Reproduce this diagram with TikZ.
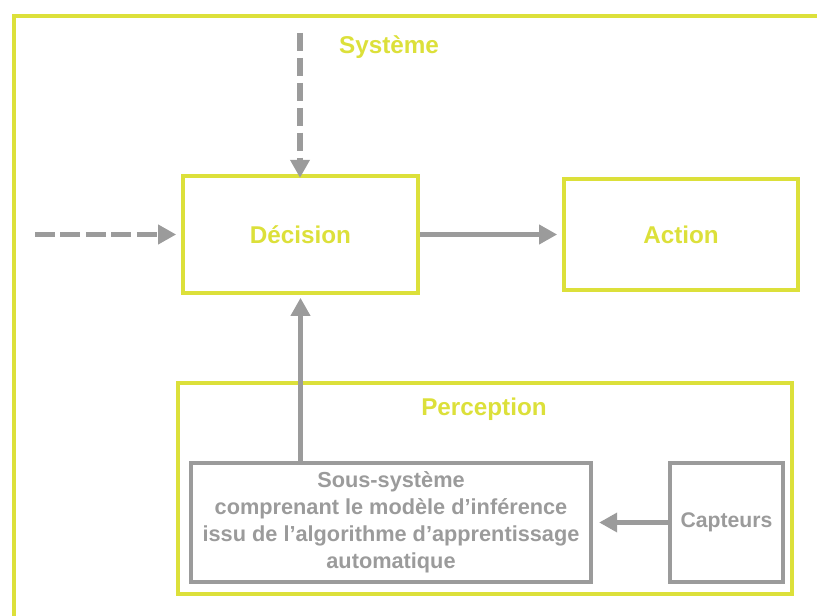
\documentclass[tikz,border=0pt]{standalone}
\usepackage{fontspec}
\setmainfont{Liberation Sans}
\usetikzlibrary{arrows.meta}
\definecolor{ylw}{HTML}{DCE03A}
\definecolor{gry}{HTML}{9B9B9B}
\begin{document}
\begin{tikzpicture}[x=0.75pt,y=-0.75pt,
  ybox/.style={draw=ylw, line width=3.2pt, rectangle, inner sep=0pt},
  gbox/.style={draw=gry, line width=3.2pt, rectangle, inner sep=0pt},
  ylabel/.style={text=ylw, font=\bfseries\fontsize{18.2pt}{21pt}\selectfont, inner sep=0pt},
  glabel/.style={text=gry, font=\bfseries\fontsize{16.3pt}{20.25pt}\selectfont, inner sep=0pt, align=center},
  arr/.style={draw=gry, line width=3.8pt, -{Triangle[length=13.5pt,width=14pt]}},
  dasharrh/.style={arr, dash pattern=on 15pt off 4.1pt},
  dasharrv/.style={arr, dash pattern=on 13.5pt off 5.2pt}
]
\useasboundingbox (0,0) rectangle (817,616);
\begin{scope}
  \clip (0,0) rectangle (817,616);
  \draw[ylw, line width=3.2pt] (14,16) rectangle (840,640);
\end{scope}

\node[ylabel] (sys) at (389,47) {Système};

\node[ybox, minimum width={235*0.75pt}, minimum height={117*0.75pt}] (dec) at (300.5,234.5) {};
\node[ylabel] (dect) at (dec.center) {Décision};

\node[ybox, minimum width={234*0.75pt}, minimum height={111*0.75pt}] (act) at (681,234.5) {};
\node[ylabel] (actt) at (act.center) {Action};

\node[ybox, minimum width={614*0.75pt}, minimum height={211*0.75pt}] (per) at (485,488.5) {};
\node[ylabel] (pert) at (484,409) {Perception};

\node[gbox, minimum width={400*0.75pt}, minimum height={119*0.75pt}] (sous) at (391,522.5) {};
\node[glabel] (soust) at (sous.center) {Sous-système\\comprenant le modèle d’inférence\\issu de l’algorithme d’apprentissage\\automatique};

\node[gbox, minimum width={113*0.75pt}, minimum height={119*0.75pt}] (cap) at (726.5,522.5) {};
\node[text=gry, font=\bfseries\fontsize{15.9pt}{19pt}\selectfont, inner sep=0pt] (capt) at (cap.center) {Capteurs};

\coordinate (topin) at (300,33);
\coordinate (leftin) at (35,234.5);

\draw[dasharrv] (topin) -- ([yshift=-3pt]dec.north -| topin);
\draw[dasharrh] (leftin) -- ([xshift=-3.5pt]dec.west |- leftin);
\draw[arr, shorten >=3.5pt] (dec.east) -- (act.west);
\draw[arr, shorten >=2pt] (sous.north -| dec.south) -- (dec.south);
\draw[arr, shorten >=4.5pt] (cap.west) -- (sous.east |- cap.west);
\end{tikzpicture}
\end{document}
